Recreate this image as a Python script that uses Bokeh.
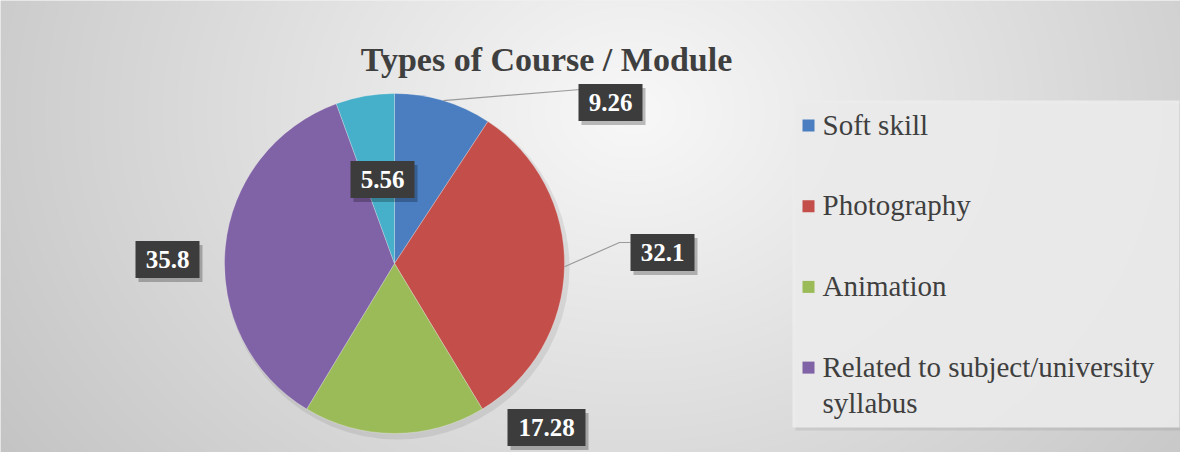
import numpy as np
from bokeh.plotting import figure
from bokeh.models import Range1d, ColumnDataSource
from bokeh.core.properties import value
from bokeh.embed import file_html
from bokeh.resources import INLINE

# ---------------- data ----------------
title = "Types of Course / Module"
categories = ["Soft skill", "Photography", "Animation",
              "Related to subject/university syllabus", "Other"]
values = [9.26, 32.1, 17.28, 35.8, 5.56]
value_labels = ["9.26", "32.1", "17.28", "35.8", "5.56"]
colors = ["#4A7EC0", "#C44E4A", "#9BBB59", "#8062A6", "#46AFCA"]
legend_categories = categories[:4]
legend_display = ["Soft skill", "Photography", "Animation",
                  "Related to subject/university\nsyllabus"]

SERIF = value("'Liberation Serif', 'Times New Roman', serif")

W, H = 1180, 452
p = figure(width=W, height=H, output_backend="svg", toolbar_location=None,
           x_range=Range1d(0, W), y_range=Range1d(0, H), min_border=0)
p.axis.visible = False
p.grid.visible = False
p.outline_line_color = None
p.background_fill_color = "#e4e4e4"
p.border_fill_color = "#ffffff"

# ---------------- background gradient ----------------
yy, xx = np.mgrid[0:H, 0:W]
cx, cy = 632.0, 340.0
d = np.sqrt(((xx - cx) / 1.0) ** 2 + ((yy - cy) * 1.25) ** 2)
g = np.clip(248 - 0.068 * d, 190, 250).astype(np.uint32)
img = (255 << 24) | (g << 16) | (g << 8) | g
p.image_rgba(image=[img.astype(np.uint32)], x=0, y=0, dw=W, dh=H)

# ---------------- pie ----------------
pcx, pcy, R = 394.0, 189.0, 170.0
vals = np.array(values)
frac = vals / vals.sum()
cum = np.concatenate([[0], np.cumsum(frac)])
start = np.pi / 2 - 2 * np.pi * cum[1:]
end = np.pi / 2 - 2 * np.pi * cum[:-1]
mid = (start + end) / 2

p.circle(x=pcx + 3, y=pcy - 4, radius=R + 2, fill_color="#000000",
         fill_alpha=0.08, line_color=None)
src = ColumnDataSource(dict(start=start, end=end, color=colors, cat=categories))
p.wedge(x=pcx, y=pcy, radius=R, start_angle="start", end_angle="end",
        fill_color="color", line_color="#f0f0f0", line_width=0.6,
        line_alpha=0.5, source=src)

# ---------------- leader lines ----------------
mx = pcx + R * np.cos(mid)
my = pcy + R * np.sin(mid)
lead_xs = [[mx[0], 580], [mx[1], 619, 630]]
lead_ys = [[my[0], 363], [my[1], 210, 210]]
p.multi_line(xs=lead_xs, ys=lead_ys, line_color="#9a9a9a", line_width=1.2)

# ---------------- data labels ----------------
lab_x = [610, 662, 546, 167, 382]
lab_y = [350, 200, 25, 193, 273]
lab_w = [14 * len(s) + 8 for s in value_labels]
lab_h = 37
p.rect(x=[x + 3 for x in lab_x], y=[y - 4 for y in lab_y], width=lab_w,
       height=lab_h, fill_color="#000000", fill_alpha=0.25, line_color=None)
p.rect(x=lab_x, y=lab_y, width=lab_w, height=lab_h, fill_color="#3c3c3c",
       line_color=None)
p.text(x=lab_x, y=lab_y, text=value_labels, text_color="#ffffff",
       text_font=SERIF, text_font_style="bold",
       text_font_size="25px", text_align="center", text_baseline="middle")

# ---------------- title ----------------
p.text(x=[546], y=[393], text=[title], text_color="#3f3f3f",
       text_font=SERIF, text_font_style="bold",
       text_font_size="34px", text_align="center", text_baseline="middle")

# ---------------- legend ----------------
p.quad(left=795, right=1182, top=349, bottom=22, fill_color="#000000",
       fill_alpha=0.07, line_color=None)
p.quad(left=792, right=1179, top=352, bottom=25, fill_color="#ececec",
       fill_alpha=0.9, line_color=None)
ly = [327 - 80.7 * i for i in range(len(legend_categories))]
p.rect(x=[808] * len(ly), y=ly, width=12, height=12,
       fill_color=colors[:4], line_color=None)
p.text(x=[822] * len(ly), y=[v + 17 for v in ly], text=legend_display,
       text_color="#3f3f3f", text_font=SERIF,
       text_font_size="29px", text_align="left", text_baseline="top",
       text_line_height=1.15)

open("out.html", "w").write(file_html(p, INLINE))
